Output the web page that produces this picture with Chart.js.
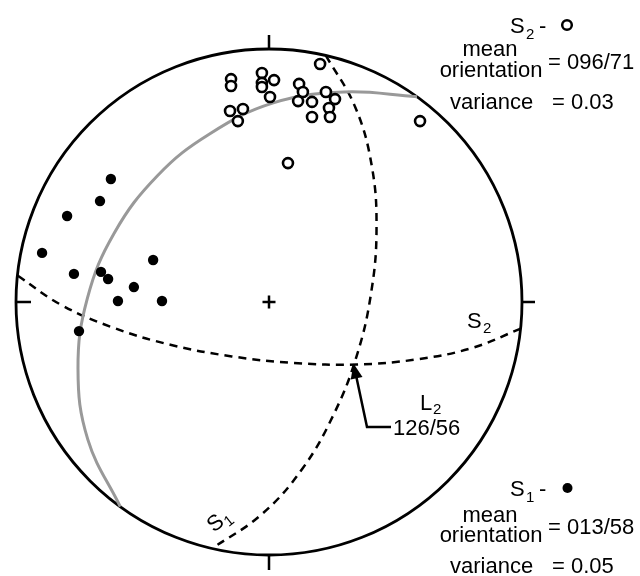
<!DOCTYPE html>
<html>
<head>
<meta charset="utf-8">
<script src="https://cdn.jsdelivr.net/npm/chart.js@4.4.1/dist/chart.umd.min.js"></script>
<style>
html,body{margin:0;padding:0;background:#fff;}
#wrap{width:640px;height:576px;}
</style>
</head>
<body>
<div id="wrap"><canvas id="net" width="640" height="576"></canvas></div>
<script>
// positions on the equal-area net, 1 = primitive radius, x east, y north
var s1Poles = [[-0.625,0.486],[-0.668,0.399],[-0.798,0.340],[-0.897,0.194],[-0.458,0.166],[-0.771,0.111],
  [-0.664,0.119],[-0.636,0.091],[-0.534,0.059],[-0.597,0.004],[-0.423,0.004],[-0.751,-0.115]];
var s2Poles = [[0.202,0.941],[-0.150,0.881],[-0.150,0.854],[-0.028,0.905],[-0.028,0.866],[-0.028,0.850],
  [0.020,0.877],[0.004,0.810],[0.119,0.862],[0.134,0.830],[0.115,0.794],[0.170,0.791],[0.225,0.830],
  [0.261,0.802],[0.237,0.767],[0.170,0.731],[0.241,0.731],[-0.154,0.755],[-0.103,0.763],[-0.123,0.715],
  [0.597,0.715],[0.075,0.549]];
// great circles
var girdle = [[-0.588,-0.809],[-0.716,-0.544],[-0.755,-0.263],[-0.718,0.014],[-0.612,0.272],
  [-0.440,0.500],[-0.235,0.664],[0.017,0.787],[0.296,0.830],[0.585,0.811]];
var s1Plane = [[0.225,0.974],[0.341,0.770],[0.406,0.539],[0.425,0.291],[0.404,0.038],
  [0.347,-0.212],[0.254,-0.448],[0.129,-0.663],[-0.031,-0.841],[-0.225,-0.974]];
var s2Plane = [[0.995,-0.105],[0.802,-0.182],[0.582,-0.227],[0.346,-0.247],[0.099,-0.241],
  [-0.147,-0.215],[-0.390,-0.169],[-0.617,-0.101],[-0.822,-0.011],[-0.995,0.105]];
var l2Point = [0.334,-0.243];
var s1Info = ['013/58','0.05'];
var s2Info = ['096/71','0.03'];
var l2Info = '126/56';

function toXY(arr){ return arr.map(function(p){ return {x:p[0], y:p[1]}; }); }

var FONT = '"Liberation Sans", Arial, Helvetica, sans-serif';

function txt(ctx, s, x, y, size, align){
    ctx.font = size + 'px ' + FONT;
    ctx.textAlign = align || 'left';
    ctx.textBaseline = 'alphabetic';
    ctx.fillText(s, x, y);
}

var netPlugin = {
    id: 'netFrame',
    beforeDatasetsDraw: function(chart){
        var ctx = chart.ctx, sx = chart.scales.x, sy = chart.scales.y;
        var cx = sx.getPixelForValue(0), cy = sy.getPixelForValue(0);
        var r = sx.getPixelForValue(1) - cx;
        ctx.save();
        ctx.strokeStyle = '#000';
        ctx.lineWidth = 2.8;
        ctx.beginPath();
        ctx.arc(cx, cy, r, 0, Math.PI*2);
        ctx.stroke();
        ctx.lineWidth = 2.5;
        ctx.beginPath();
        // N, S, E, W ticks
        ctx.moveTo(cx, cy - r); ctx.lineTo(cx, cy - r - 14);
        ctx.moveTo(cx, cy + r); ctx.lineTo(cx, cy + r + 15);
        ctx.moveTo(cx + r, cy); ctx.lineTo(cx + r + 13, cy);
        ctx.moveTo(cx - r, cy); ctx.lineTo(cx - r + 15, cy);
        // centre cross
        ctx.moveTo(cx - 6.5, cy); ctx.lineTo(cx + 6.5, cy);
        ctx.moveTo(cx, cy - 6.5); ctx.lineTo(cx, cy + 6.5);
        ctx.stroke();
        ctx.restore();
    },
    afterDatasetsDraw: function(chart){
        var ctx = chart.ctx, sx = chart.scales.x, sy = chart.scales.y;
        ctx.save();
        ctx.fillStyle = '#000';
        ctx.strokeStyle = '#000';

        // S2 legend
        txt(ctx, 'S', 510, 33, 22);
        txt(ctx, '2', 526, 39, 15);
        txt(ctx, '-', 539, 33, 22);
        ctx.lineWidth = 2.5;
        ctx.beginPath(); ctx.arc(567, 25, 4.8, 0, Math.PI*2); ctx.stroke();
        txt(ctx, 'mean', 490, 56, 22, 'center');
        txt(ctx, 'orientation', 491, 77, 22, 'center');
        txt(ctx, '= ' + s2Info[0], 548, 69, 22);
        txt(ctx, 'variance', 450, 109, 22);
        txt(ctx, '= ' + s2Info[1], 552, 109, 22);

        // S1 legend
        txt(ctx, 'S', 510, 496, 22);
        txt(ctx, '1', 526, 502, 15);
        txt(ctx, '-', 539, 496, 22);
        ctx.beginPath(); ctx.arc(567.5, 488, 5, 0, Math.PI*2); ctx.fill();
        txt(ctx, 'mean', 490, 522, 22, 'center');
        txt(ctx, 'orientation', 491, 542, 22, 'center');
        txt(ctx, '= ' + s1Info[0], 548, 534, 22);
        txt(ctx, 'variance', 450, 573, 22);
        txt(ctx, '= ' + s1Info[1], 552, 573, 22);

        // plane labels
        txt(ctx, 'S', 467, 328, 22);
        txt(ctx, '2', 483, 333, 15);
        ctx.save();
        ctx.translate(216, 521);
        ctx.rotate(-0.68);
        txt(ctx, 'S', -9, 8, 22);
        txt(ctx, '1', 6, 13, 15);
        ctx.restore();

        // L2 label and arrow
        txt(ctx, 'L', 420, 410, 22);
        txt(ctx, '2', 433, 414, 15);
        txt(ctx, l2Info, 393, 435, 22);
        var tx = sx.getPixelForValue(l2Point[0]), ty = sy.getPixelForValue(l2Point[1]);
        var bx = 367, by = 427;
        var ang = Math.atan2(ty - by, tx - bx);
        ctx.lineWidth = 2.5;
        ctx.beginPath();
        ctx.moveTo(391, by); ctx.lineTo(bx, by);
        ctx.lineTo(tx - Math.cos(ang)*10, ty - Math.sin(ang)*10);
        ctx.stroke();
        ctx.beginPath();
        ctx.moveTo(tx, ty);
        ctx.lineTo(tx - Math.cos(ang)*15 + Math.sin(ang)*6, ty - Math.sin(ang)*15 - Math.cos(ang)*6);
        ctx.lineTo(tx - Math.cos(ang)*15 - Math.sin(ang)*6, ty - Math.sin(ang)*15 + Math.cos(ang)*6);
        ctx.closePath();
        ctx.fill();
        ctx.restore();
    }
};

var lineStyle = {showLine:true, pointRadius:0, pointHoverRadius:0, fill:false, tension:0.4, order:2};

var chart = new Chart(document.getElementById('net'), {
    type: 'scatter',
    data: {
        datasets: [
            {label:'S1 poles', data:toXY(s1Poles), pointRadius:5.2, pointHoverRadius:5.2,
             backgroundColor:'#000', borderColor:'#000', borderWidth:0, order:0},
            {label:'S2 poles', data:toXY(s2Poles), pointRadius:5, pointHoverRadius:5,
             backgroundColor:'#fff', borderColor:'#000', borderWidth:2.6, order:0},
            Object.assign({label:'girdle', data:toXY(girdle), borderColor:'#999999', borderWidth:3}, lineStyle),
            Object.assign({label:'S1', data:toXY(s1Plane), borderColor:'#000', borderWidth:2.5, borderDash:[8,6]}, lineStyle),
            Object.assign({label:'S2', data:toXY(s2Plane), borderColor:'#000', borderWidth:2.5, borderDash:[8,6]}, lineStyle)
        ]
    },
    options: {
        responsive: false,
        animation: false,
        layout: {padding: 0, autoPadding: false},
        plugins: {legend:{display:false}, tooltip:{enabled:false}},
        scales: {
            x: {type:'linear', display:false, min:-269/253, max:371/253},
            y: {type:'linear', display:false, min:-274/253, max:302/253}
        }
    },
    plugins: [netPlugin]
});
</script>
</body>
</html>
